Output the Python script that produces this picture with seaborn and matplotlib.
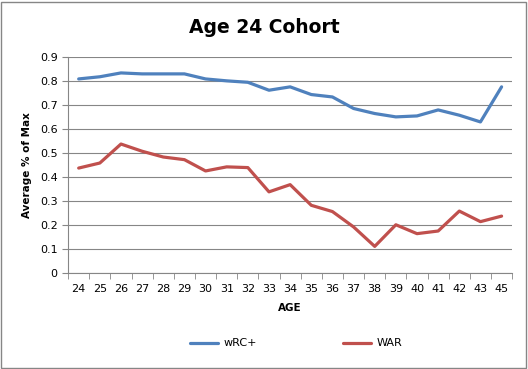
import numpy as np
import pandas as pd
import matplotlib
matplotlib.use("Agg")
import matplotlib.pyplot as plt
import seaborn as sns
from matplotlib.patches import Rectangle

# data
ages = list(range(24, 46))
ages.remove(44)
wrc = [0.808, 0.817, 0.833, 0.829, 0.829, 0.829, 0.808, 0.800, 0.794, 0.761,
       0.775, 0.743, 0.733, 0.685, 0.664, 0.650, 0.654, 0.679, 0.657, 0.629, 0.775]
war = [0.437, 0.458, 0.537, 0.507, 0.483, 0.472, 0.425, 0.442, 0.439, 0.338,
       0.368, 0.282, 0.256, 0.192, 0.111, 0.201, 0.164, 0.175, 0.258, 0.214, 0.237]

df = pd.DataFrame({"pos": range(len(ages)), "wRC+": wrc, "WAR": war})
long = df.melt(id_vars="pos", var_name="series", value_name="val")

sns.set_style("white")
plt.rcParams['font.family'] = ['DejaVu Sans']
plt.rcParams['text.color'] = 'black'
plt.rcParams['xtick.color'] = 'black'
plt.rcParams['ytick.color'] = 'black'
plt.rcParams['axes.labelcolor'] = 'black'

fig = plt.figure(figsize=(5.28, 3.69), dpi=100)
ax = fig.add_axes([0.129, 0.26, 0.841, 0.586])

sns.lineplot(data=long, x="pos", y="val", hue="series",
             palette={"wRC+": "#4F81BD", "WAR": "#C0504D"},
             linewidth=2.3, ax=ax, legend=False)

ax.set_xlim(-0.5, len(ages) - 0.5)
ax.set_ylim(0, 0.9)
ax.set_yticks(np.arange(0, 0.91, 0.1))
ax.set_yticklabels(["0"] + ["%.1f" % v for v in np.arange(0.1, 0.91, 0.1)])
ax.yaxis.grid(True, color="#868686", linewidth=0.8)
ax.set_axisbelow(True)

ax.set_xticks(range(len(ages)))
ax.set_xticklabels([str(a) for a in ages])
ax.set_xticks(np.arange(-0.5, len(ages), 1), minor=True)
ax.tick_params(axis="x", which="major", length=0, labelsize=8, pad=8)
ax.tick_params(axis="x", which="minor", length=4, color="#868686", direction="out", bottom=True)
ax.tick_params(axis="y", length=4, color="#868686", labelcolor="black", direction="out", left=True, labelsize=8)

for s in ["top", "right"]:
    ax.spines[s].set_visible(False)
for s in ["left", "bottom"]:
    ax.spines[s].set_color("#868686")

ax.set_xlabel("AGE", fontsize=7.5, fontweight="bold", labelpad=6)
ax.set_ylabel("Average % of Max", fontsize=7.5, fontweight="bold", labelpad=6)
fig.text(0.5, 0.925, "Age 24 Cohort", ha="center", va="center",
         fontsize=13.5, fontweight="bold")

# legend below
fig.lines.append(plt.Line2D([0.36, 0.413], [0.071, 0.071], transform=fig.transFigure,
                            color="#4F81BD", linewidth=2.3))
fig.text(0.424, 0.071, "wRC+", va="center", fontsize=8)
fig.lines.append(plt.Line2D([0.65, 0.703], [0.071, 0.071], transform=fig.transFigure,
                            color="#C0504D", linewidth=2.3))
fig.text(0.714, 0.071, "WAR", va="center", fontsize=8)

fig.patches.append(Rectangle((0.002, 0.004), 0.994, 0.99, transform=fig.transFigure,
                             fill=False, edgecolor="#868686", linewidth=1))

fig.savefig("out.png", dpi=100)
